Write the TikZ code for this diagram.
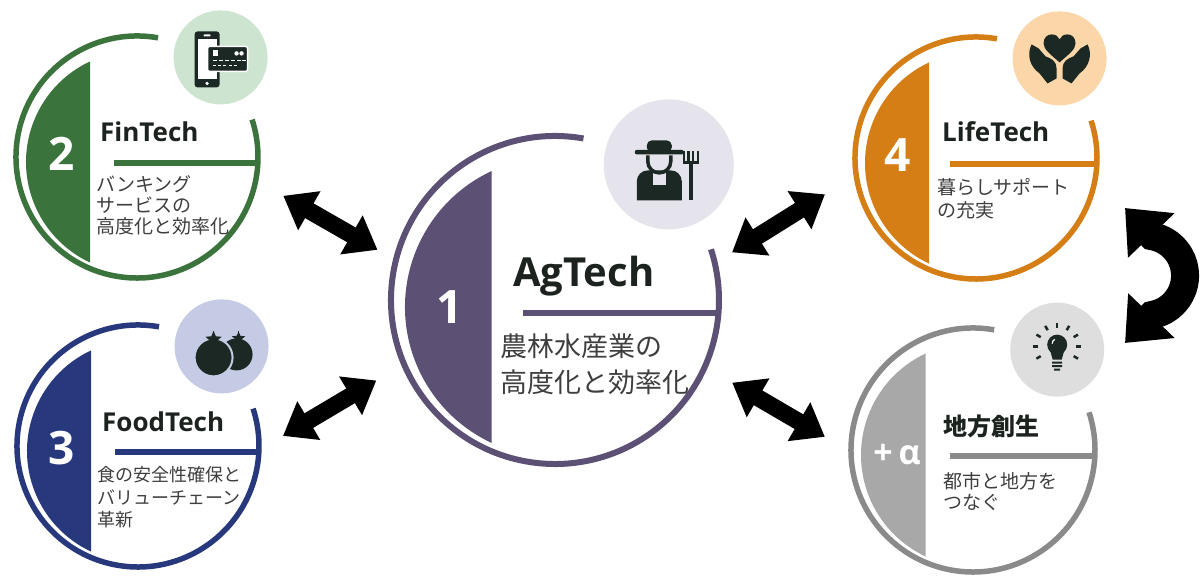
\documentclass[tikz,border=0pt]{standalone}
\usepackage{fontspec}
\setmainfont{Open Sans}
\newfontfamily\jp{Noto Sans CJK JP}
\usetikzlibrary{arrows.meta,shapes.geometric}

\definecolor{fingreen}{RGB}{58,115,60}
\definecolor{finlight}{RGB}{204,228,208}
\definecolor{foodblue}{RGB}{40,56,125}
\definecolor{foodlight}{RGB}{197,203,228}
\definecolor{agpurple}{RGB}{92,80,116}
\definecolor{aglight}{RGB}{229,227,235}
\definecolor{lifeorange}{RGB}{214,126,22}
\definecolor{lifelight}{RGB}{250,214,168}
\definecolor{plusgray}{RGB}{138,138,138}
\definecolor{plusseg}{RGB}{168,168,168}
\definecolor{pluslight}{RGB}{222,222,222}
\definecolor{icondark}{RGB}{28,40,36}
\definecolor{titledark}{RGB}{28,34,30}
\definecolor{txtgray}{RGB}{62,62,62}

\begin{document}
\begin{tikzpicture}[x=1pt, y=1pt,
    hub/.style={circle, inner sep=0pt, outer sep=0pt, minimum size=242pt},
    ring/.style={line width=5.5pt},
    bar/.style={line width=6pt},
    iconbg/.style={circle, inner sep=0pt, minimum size=94pt},
    num/.style={text=white, font=\bfseries\fontsize{46}{46}\selectfont},
    ttl/.style={anchor=base west, inner sep=0pt, text=titledark, font=\bfseries\fontsize{26}{26}\selectfont},
    jptxt/.style={anchor=base west, inner sep=0pt, align=left, text=txtgray, font=\jp\fontsize{19}{21}\selectfont},
    link/.style={line width=17pt, {Triangle[width=43pt,length=30pt]}-{Triangle[width=43pt,length=30pt]}},
    turn/.style={line width=28pt, {Triangle[width=62pt,length=38pt]}-{Triangle[width=62pt,length=38pt]}},
    icon/.style={fill=icondark}]
\useasboundingbox (0,0) rectangle (1203,577);

% 1 AgTech
\begin{scope}[shift={(555,277)}]
  \node[hub, minimum size=328pt] (ag) at (0,0) {};
  \draw[ring, line width=6pt, agpurple] (80:164) arc[start angle=80, end angle=378, radius=164];
  \fill[agpurple] (0,-7) ++(115:150) arc[start angle=115, end angle=245, radius=150] -- cycle;
  \draw[bar, agpurple] (-32,-13) -- (164,-13);
  \node[iconbg, fill=aglight, minimum size=130pt] (agicon) at (50:177) {};
  \node[num] (agnum) at (-105,-7) {1};
  \node[ttl, font=\bfseries\fontsize{40}{40}\selectfont] (agtitle) at (-42,13) {AgTech};
  % base = last line
  \node[jptxt, font=\jp\fontsize{27}{36}\selectfont] (agtext) at (-55,-93) {農林水産業の\\高度化と効率化};
  \begin{scope}[shift={(50:177)}]
    % farmer
    \fill[icon, rounded corners=2] (-34,10) rectangle (15,14.5);
    \fill[icon, rounded corners=5] (-22,12) rectangle (3,24);
    \fill[icon] (-32,-36) -- (-32,-17) to[out=90,in=180] (-21,-6) -- (2,-6) to[out=0,in=90] (13,-17) -- (13,-36) -- cycle;
    \fill[aglight] (-16,-8) rectangle (-3,-21);
    \draw[icondark, line width=3.5pt] (-21,9) -- (-21,3) arc[start angle=180, end angle=360, radius=11.5] -- (2,9);
    \draw[icondark, line width=2.5pt] (15,13) -- (15,2) -- (29,2) -- (29,13) (19.7,13) -- (19.7,2) (24.3,13) -- (24.3,2);
    \draw[icondark, line width=3.5pt] (22,2) -- (22,-36);
  \end{scope}
\end{scope}

% 2 FinTech
\begin{scope}[shift={(137,420)}]
  \node[hub] (fin) at (0,0) {};
  \draw[ring, fingreen] (80:121) arc[start angle=80, end angle=378, radius=121];
  \fill[fingreen] (0,-5) ++(115:111) arc[start angle=115, end angle=245, radius=111] -- cycle;
  \draw[bar, fingreen] (-23,-6) -- (121,-6);
  \node[iconbg, fill=finlight] (finicon) at (50:130) {};
  \node[num] (finnum) at (-75,3) {2};
  \node[ttl] (fintitle) at (-37,15) {FinTech};
  \node[jptxt] (fintext) at (-41,-77) {バンキング\\サービスの\\高度化と効率化};
  \begin{scope}[shift={(50:130)}]
    % phone and card
    \fill[icon, rounded corners=3] (-26,-30) rectangle (-1,26);
    \fill[white] (-23,-22) rectangle (-4,18);
    \fill[white, rounded corners=0.8] (-17,21) rectangle (-10,23);
    \fill[white] (-13.5,-26) circle (1.8);
    \filldraw[icon, draw=white, line width=1.5pt, rounded corners=2] (-13,-14) rectangle (27,11);
    \fill[white] (-8,1) rectangle (-3,7);
    \fill[white] (16,4) circle (2.2) (21,4) circle (2.2);
    \foreach \x in {-8,-2,4,10,16,21} \fill[white] (\x,-4) rectangle ++(4,1.6);
    \foreach \x in {-8,-3,2,8,13} \fill[white] (\x,-9) rectangle ++(3,1.6);
  \end{scope}
\end{scope}

% 3 FoodTech
\begin{scope}[shift={(138,131)}]
  \node[hub] (food) at (0,0) {};
  \draw[ring, foodblue] (80:121) arc[start angle=80, end angle=378, radius=121];
  \fill[foodblue] (0,-5) ++(115:111) arc[start angle=115, end angle=245, radius=111] -- cycle;
  \draw[bar, foodblue] (-23,-6) -- (121,-6);
  \node[iconbg, fill=foodlight] (foodicon) at (50:130) {};
  \node[num] (foodnum) at (-76,-2) {3};
  \node[ttl] (foodtitle) at (-36,14) {FoodTech};
  \node[jptxt, font=\jp\fontsize{18}{22.5}\selectfont] (foodtext) at (-41,-81) {食の安全性確保と\\バリューチェーン\\革新};
  \begin{scope}[shift={(50:130)}]
    % tomatoes
    \fill[icon] (15,-8) circle (16);
    \filldraw[icon, draw=foodlight, line width=2pt] (-8,-11) circle (19);
    \node[star, star points=5, star point ratio=2.2, fill=icondark, inner sep=0pt, minimum size=17pt] (leafa) at (-8,7) {};
    \node[star, star points=5, star point ratio=2.2, fill=icondark, inner sep=0pt, minimum size=14pt] (leafb) at (17,8) {};
    \draw[icondark, line width=1.5pt] (-8,9) -- (-8,15) (17,10) -- (17,15);
  \end{scope}
\end{scope}

% 4 LifeTech
\begin{scope}[shift={(976,419)}]
  \node[hub] (life) at (0,0) {};
  \draw[ring, lifeorange] (80:121) arc[start angle=80, end angle=378, radius=121];
  \fill[lifeorange] (0,-5) ++(115:111) arc[start angle=115, end angle=245, radius=111] -- cycle;
  \draw[bar, lifeorange] (-26,-6) -- (121,-6);
  \node[iconbg, fill=lifelight] (lifeicon) at (50:130) {};
  \node[num] (lifenum) at (-78,3) {4};
  \node[ttl] (lifetitle) at (-34,16) {LifeTech};
  \node[jptxt, font=\jp\fontsize{19}{23}\selectfont] (lifetext) at (-39,-60) {暮らしサポート\\の充実};
  \begin{scope}[shift={(50:130)}]
    % heart in hands
    \fill[icon] (0,-4) .. controls (-9,4) and (-16,9) .. (-16,15) .. controls (-16,21) and (-12,24) .. (-8,24) .. controls (-4,24) and (-1,22) .. (0,19) .. controls (1,22) and (4,24) .. (8,24) .. controls (12,24) and (16,21) .. (16,15) .. controls (16,9) and (9,4) .. (0,-4) -- cycle;
    \foreach \s in {1,-1}
      \fill[icon, xscale=\s] (-28,14) .. controls (-33,4) and (-30,-8) .. (-20,-15) -- (-12,-25) -- (-3,-20) -- (-3,-10) .. controls (-3,-3) and (-8,0) .. (-14,2) -- (-21,10) -- cycle;
  \end{scope}
\end{scope}

% +alpha
\begin{scope}[shift={(973,127)}]
  \node[hub, minimum size=244pt] (plus) at (0,0) {};
  \draw[ring, plusgray] (80:122) arc[start angle=80, end angle=378, radius=122];
  \fill[plusseg] (0,-5) ++(115:112) arc[start angle=115, end angle=245, radius=112] -- cycle;
  \draw[bar, plusgray] (-23,-6) -- (122,-6);
  \node[iconbg, fill=pluslight] (plusicon) at (50:131) {};
  \node[num, font=\bfseries\fontsize{34}{34}\selectfont] (plusnum) at (-76,-5) {+\,α};
  \node[ttl, font=\jp\bfseries\fontsize{24}{24}\selectfont] (plustitle) at (-30,14) {地方創生};
  \node[jptxt] (plustext) at (-30,-60) {都市と地方を\\つなぐ};
  \begin{scope}[shift={(50:131)}]
    % light bulb
    \fill[icon] (0,5) circle (10);
    \fill[icon] (-7,-1) -- (-4.5,-10) -- (4.5,-10) -- (7,-1) -- cycle;
    \fill[icon] (-5,-12) rectangle (5,-14) (-5,-15.5) rectangle (5,-17.5) (-3,-19) rectangle (3,-21);
    \draw[white, line width=1.2pt] (-5,6) arc[start angle=180, end angle=120, radius=5];
    \foreach \a in {-30,0,30,60,90,120,150,180,210}
      \draw[icondark, line width=2.5pt] ([shift={(0,3)}]\a:19) -- ([shift={(0,3)}]\a:24);
  \end{scope}
\end{scope}

% links
\draw[link, shorten <=31.7pt, shorten >=21.2pt] (fin.-11.4) -- (ag.166.9);
\draw[link, shorten <=28pt, shorten >=32.2pt] (food.-2.4) -- (ag.203.6);
\draw[link, shorten <=20.3pt, shorten >=36.8pt] (ag.13.2) -- (life.188.5);
\draw[link, shorten <=31.7pt, shorten >=30.3pt] (ag.-24.1) -- (plus.181.6);

\coordinate (turnup) at (1125,369);
\coordinate (turndown) at (1125,234);
\draw[turn] (turndown) -- (1152,262) arc[start angle=-80, end angle=80, radius=40] -- (turnup);
\end{tikzpicture}
\end{document}
